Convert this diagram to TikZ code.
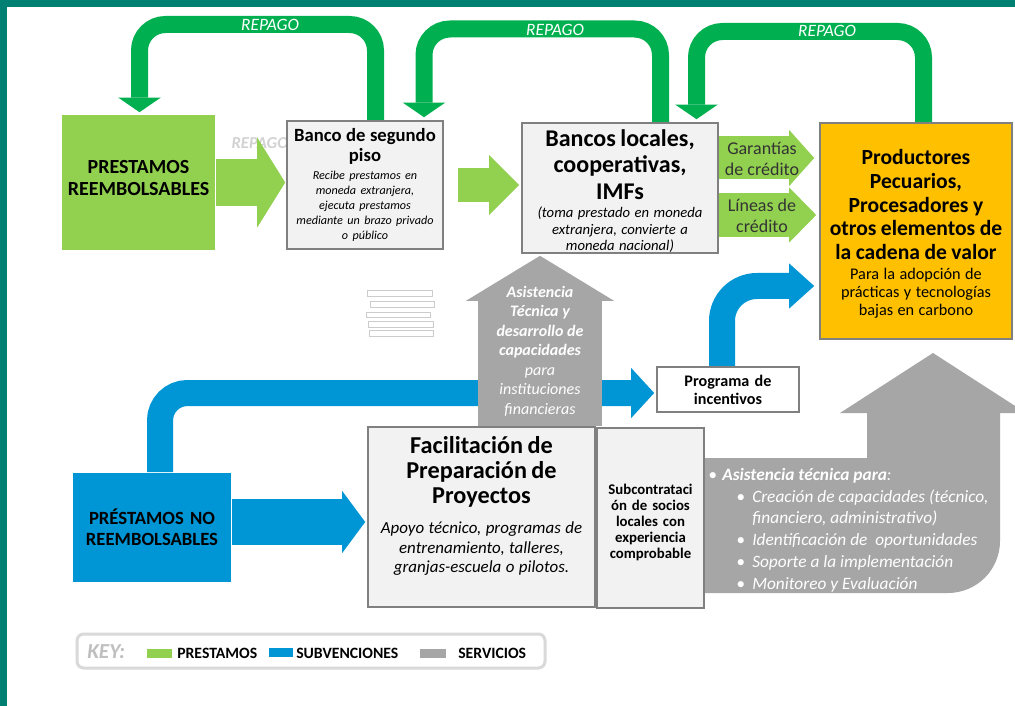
\documentclass[tikz,border=0pt]{standalone}
\usepackage{fontspec}
\setmainfont{Carlito}
\usetikzlibrary{arrows.meta,calc,backgrounds}

\definecolor{framecol}{RGB}{0,128,115}
\definecolor{repagocol}{RGB}{0,176,80}
\definecolor{prestcol}{RGB}{146,208,80}
\definecolor{subvcol}{RGB}{0,150,214}
\definecolor{servcol}{RGB}{166,166,166}
\definecolor{boxcol}{RGB}{242,242,242}
\definecolor{edgecol}{RGB}{128,128,128}
\definecolor{prodcol}{RGB}{255,192,0}
\definecolor{keycol}{RGB}{217,217,217}
\definecolor{keytext}{RGB}{191,191,191}

\newcommand{\fsz}[2]{\fontsize{#1}{#2}\selectfont}
\newcommand{\sitem}{\makebox[33pt][l]{\hspace*{21pt}\textbullet}}

\begin{document}
\begin{tikzpicture}[x=0.75pt,y=0.75pt,yscale=-1,xscale=1,
        box/.style={draw=edgecol, line width=1.2pt, fill=boxcol, inner sep=0pt, align=center},
        boxtext/.style={align=center, inner sep=0pt},
        repago/.style={draw=repagocol, line width=12.75pt, rounded corners=19.5pt,
            -{Triangle[width=32pt,length=11pt,line width=0pt]}},
        repagolabel/.style={text=white, font=\fsz{13}{14}\itshape, inner sep=0.75pt},
        prestarrow/.style={draw=prestcol},
        subvarrow/.style={draw=subvcol},
        servarrow/.style={draw=servcol},
        ghost/.style={draw=gray!40, line width=0.6pt, fill=white},
        keylabel/.style={anchor=west, inner sep=0.75pt, font=\fsz{11.8}{13}\bfseries}
    ]
        \useasboundingbox (0,0) rectangle (1015,706);

        %Shape: Rectangle (prestamos reembolsables)
        \node[box, fill=prestcol, draw=none, minimum width=114.75pt, minimum height=101.25pt] (prest) at (138.5,182.5) {};
        \node[boxtext, text width=112pt, font=\fsz{15}{16.5}\bfseries] (presttext) at ($(prest.center)+(0,-4)$)
            {PRESTAMOS\\REEMBOLSABLES};
        %Shape: Rectangle (banco de segundo piso)
        \node[box, minimum width=117pt, minimum height=96pt] (banco) at (365,185) {};
        \node[boxtext, text width=115pt] (bancotext) at ($(banco.center)+(0,0)$)
            {{\fsz{14}{15}\bfseries Banco de segundo\\piso\par}\vspace{2.25pt}
             {\fsz{9.1}{11.25}\itshape Recibe prestamos en\\moneda extranjera,\\ejecuta prestamos\\mediante un brazo privado\\o público\par}};
        %Shape: Rectangle (bancos locales)
        \node[box, minimum width=147pt, minimum height=97.5pt] (locales) at (620,188) {};
        \node[boxtext, text width=145pt] (localestext) at ($(locales.center)+(0,3)$)
            {{\fsz{18}{19.9}\bfseries Bancos locales,\\cooperativas,\\IMFs\par}\vspace{1.5pt}
             {\fsz{11}{12.4}\itshape (toma prestado en moneda\\extranjera, convierte a\\moneda nacional)\par}};
        %Shape: Rectangle (productores)
        \node[box, fill=prodcol, minimum width=144pt, minimum height=162pt] (prod) at (916,231) {};
        \node[boxtext, text width=142pt] (prodtext) at ($(prod.center)+(0,3)$)
            {{\fsz{16.2}{17.8}\bfseries Productores\\Pecuarios,\\Procesadores y\\otros elementos de\\la cadena de valor\par}\vspace{1.5pt}
             {\fsz{12.2}{13.5}Para la adopción de\\prácticas y tecnologías\\bajas en carbono\par}};
        %Shape: Rectangle (programa de incentivos)
        \node[box, fill=white, minimum width=106.5pt, minimum height=33.75pt, text width=104pt,
            font=\fsz{12.1}{13.5}\bfseries] (prog) at (728,389.5) {Programa de\\incentivos};
        %Shape: Rectangle (prestamos no reembolsables)
        \node[box, fill=subvcol, draw=none, minimum width=118.5pt, minimum height=81.75pt, text width=116pt,
            font=\fsz{14}{15.75}\bfseries] (noreemb) at (152,527.5) {PRÉSTAMOS NO\\REEMBOLSABLES};
        %Shape: Rectangle (facilitacion)
        \node[box, minimum width=170.25pt, minimum height=135pt] (facil) at (481.5,517) {};
        \node[boxtext, text width=168pt] (faciltext) at ($(facil.center)+(0,-11)$)
            {{\fsz{18.2}{18.75}\bfseries Facilitación de\\Preparación de\\Proyectos\par}\vspace{8.5pt}
             {\fsz{12.7}{14.6}\itshape Apoyo técnico, programas de\\entrenamiento, talleres,\\granjas-escuela o pilotos.\par}};
        %Shape: Rectangle (subcontratacion)
        \node[box, minimum width=80.25pt, minimum height=135pt] (subc) at (650.5,518) {};
        \node[boxtext, text width=78pt, font=\fsz{11.1}{12}\bfseries] (subctext) at ($(subc.center)+(0,4)$)
            {Subcontrataci\\ón de socios\\locales con\\experiencia\\comprobable};

        % Text Node
        \node[repagolabel] (rep1) at (270,25) {REPAGO};
        % Text Node
        \node[repagolabel] (rep2) at (555,30) {REPAGO};
        % Text Node
        \node[repagolabel] (rep3) at (827,31) {REPAGO};
        % Text Node
        \node[boxtext, text=black!80, font=\fsz{13.5}{15.75}] (garant) at (762,159) {Garantías\\de crédito};
        % Text Node
        \node[boxtext, text=black!80, font=\fsz{13.5}{15.75}] (lineas) at (762,216) {Líneas de\\crédito};
        % Text Node
        \node[boxtext, text=white, font=\fsz{12}{14.6}\itshape] (asist) at (540,351)
            {\textbf{Asistencia}\\\textbf{Técnica y}\\\textbf{desarrollo de}\\\textbf{capacidades}\\para\\instituciones\\financieras};
        % Text Node
        \node[anchor=west, align=left, inner sep=0pt, text=white, font=\fsz{13}{16.3}\itshape] (servlist) at (708,530)
            {\makebox[10.5pt][l]{\textbullet}\textbf{Asistencia técnica para}:\\
             \sitem Creación de capacidades (técnico,\\
             \hspace*{33pt}financiero, administrativo)\\
             \sitem Identificación de\ \ oportunidades\\
             \sitem Soporte a la implementación\\
             \sitem Monitoreo y Evaluación};

        %Shape: Rounded Rectangle (key)
        \draw[keycol, line width=2.25pt, rounded corners=5pt, fill=white] (77,634) rectangle (545,668);
        \node[anchor=west, inner sep=0pt, text=keytext, font=\fsz{16}{17}\bfseries\itshape] (keyhead) at (87,652) {KEY:};
        \fill[prestcol] (147,649) rectangle (172,658);
        \node[keylabel] (keyprest) at (176,653) {PRESTAMOS};
        \fill[subvcol] (269,648) rectangle (293,657);
        \node[keylabel] (keysubv) at (295,653) {SUBVENCIONES};
        \fill[servcol] (420,649) rectangle (446,658);
        \node[keylabel] (keyserv) at (457,653) {SERVICIOS};

        \begin{scope}[on background layer]
        \fill[white] (0,0) rectangle (1015,706);
        %Shape: Frame
        \fill[framecol] (0,0) rectangle (1015,7);
        \fill[framecol] (0,0) rectangle (7,706);
        % Text Node
        \node[text=gray!35, font=\fsz{12.5}{14}\bfseries\itshape, inner sep=0pt] (ghostrep) at (260,143) {REPAGO};
        %Shape: Rectangle (stacked lines)
        \draw[ghost] (367,290) rectangle (432,296);
        \draw[ghost] (370,301) rectangle (434,307);
        \draw[ghost] (366,312) rectangle (430,317);
        \draw[ghost] (368,321) rectangle (433,327);
        \draw[ghost] (369,330) rectangle (433,336);

        %Shape: Bent Arrow (repago)
        \draw[repago] ($(banco.north)+(10.5,0)$) |- (139.5,24.5) -- ($(prest.north)+(1,-2)$);
        \draw[repago] ($(locales.north)+(40.5,0)$) |- (424,29) -- ($(banco.north)+(59,-3)$);
        \draw[repago] ($(prod.north)+(7.5,0)$) |- (696.5,31.5) -- ($(locales.north)+(76.5,-3)$);

        %Shape: Right Arrow (prestamos)
        \draw[prestarrow, line width=35.25pt, -{Triangle[width=67.5pt,length=21pt,line width=0pt]}]
            (prest.east) -- ($(prest.east -| banco.west)+(-1,0)$);
        \draw[prestarrow, line width=25.5pt, -{Triangle[width=45pt,length=22.5pt,line width=0pt]}]
            ($(banco.east)+(14,0)$) -- ($(banco.east -| locales.west)+(-2,0)$);
        \draw[prestarrow, line width=32.25pt, -{Triangle[width=42pt,length=18.75pt,line width=0pt]}]
            ($(locales.east)+(0,-30)$) -- ($(locales.east -| prod.west)+(-5,-30)$);
        \draw[prestarrow, line width=33pt, -{Triangle[width=41.25pt,length=20.25pt,line width=0pt]}]
            ($(locales.east)+(0,27)$) -- ($(locales.east -| prod.west)+(-3,27)$);

        %Shape: Bent Arrow (subvenciones)
        \draw[subvarrow, line width=19.5pt, rounded corners=20.6pt, -{Triangle[width=37.5pt,length=17.25pt,line width=0pt]}]
            ($(noreemb.north)+(8,0)$) |- ($(prog.west)+(-2,3.5)$);
        \draw[subvarrow, line width=19.5pt, rounded corners=26.25pt, -{Triangle[width=33.75pt,length=18.75pt,line width=0pt]}]
            ($(prog.north)+(-6,0)$) |- ($(prod.west)+(-5,55)$);
        \draw[subvarrow, line width=34.5pt, -{Triangle[width=46.5pt,length=17.25pt,line width=0pt]}]
            ($(noreemb.east)+(0,-5.5)$) -- ($(noreemb.east -| facil.west)+(-2,-5.5)$);

        %Shape: Up Arrow (servicios)
        \draw[servarrow, line width=93pt, -{Triangle[width=111pt,length=33.75pt,line width=0pt]}]
            ($(facil.north)+(58.5,0)$) -- ($(locales.south)+(-80,2)$);
        %Shape: Bent Up Arrow (servicios)
        \fill[servcol] (650,458) -- (867,458) -- (867,413) -- (840,413) -- (933,353) -- (1026,413) -- (1000,413)
            -- (1000,541) arc[start angle=0, end angle=90, radius=52] -- (650,593) -- cycle;
        \end{scope}
    \end{tikzpicture}
\end{document}
